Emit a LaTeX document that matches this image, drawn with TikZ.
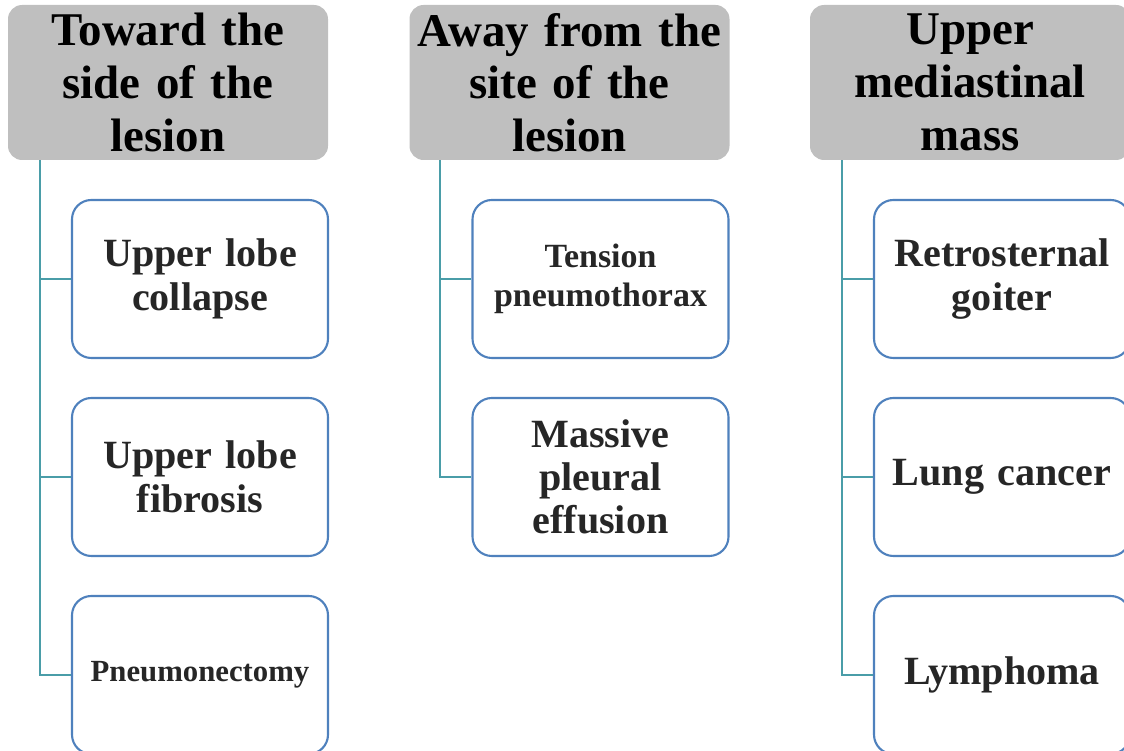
\documentclass[tikz,border=0pt]{standalone}
\usepackage{fontspec}
\setmainfont{Liberation Serif}
\definecolor{headgray}{HTML}{BFBFBF}
\definecolor{boxblue}{HTML}{4F81BD}
\definecolor{linkteal}{HTML}{4A9DA8}
\definecolor{itemtext}{HTML}{262626}
\begin{document}
\begin{tikzpicture}[
  head/.style={fill=headgray, rounded corners=8pt, align=center, inner sep=0pt,
    minimum width=6.4cm, minimum height=3.1cm, text width=6.3cm,
    font=\bfseries\fontsize{26.7}{30}\selectfont},
  item/.style={draw=boxblue, line width=1.2pt, fill=white, rounded corners=11pt, align=center,
    inner sep=0pt, minimum width=5.12cm, minimum height=3.16cm, text width=5cm,
    text=itemtext, font=\bfseries\fontsize{22.8}{25}\selectfont},
  link/.style={draw=linkteal, line width=1.3pt}]
\useasboundingbox (0,0) rectangle (22.48,-15.02);

\node[head] (h1) at (3.36,-1.65) {Toward the\\side of the\\lesion};
\node[head] (h2) at (11.39,-1.65) {Away from the\\site of the\\lesion};
\node[head] (h3) at (19.4,-1.65) {Upper\\mediastinal\\mass};

\node[item] (a1) at (4.0,-5.58) {Upper lobe\\collapse};
\node[item] (a2) at (4.0,-9.54) {Upper lobe\\fibrosis};
\node[item, font=\bfseries\fontsize{17.5}{21}\selectfont] (a3) at (4.0,-13.5) {Pneumonectomy};

\node[item, font=\bfseries\fontsize{19.3}{22}\selectfont] (b1) at (12.01,-5.58) {Tension\\pneumothorax};
\node[item, font=\bfseries\fontsize{22.8}{24.5}\selectfont] (b2) at (12.01,-9.54) {Massive\\pleural\\effusion};

\node[item] (c1) at (20.04,-5.58) {Retrosternal\\goiter};
\node[item] (c2) at (20.04,-9.54) {Lung cancer};
\node[item] (c3) at (20.04,-13.5) {Lymphoma};

\draw[link] ([xshift=0.64cm]h1.south west) |- (a3.west);
\draw[link] ([xshift=0.64cm]h1.south west) |- (a1.west);
\draw[link] ([xshift=0.64cm]h1.south west) |- (a2.west);
\draw[link] ([xshift=0.62cm]h2.south west) |- (b2.west);
\draw[link] ([xshift=0.62cm]h2.south west) |- (b1.west);
\draw[link] ([xshift=0.64cm]h3.south west) |- (c3.west);
\draw[link] ([xshift=0.64cm]h3.south west) |- (c1.west);
\draw[link] ([xshift=0.64cm]h3.south west) |- (c2.west);
\end{tikzpicture}
\end{document}
